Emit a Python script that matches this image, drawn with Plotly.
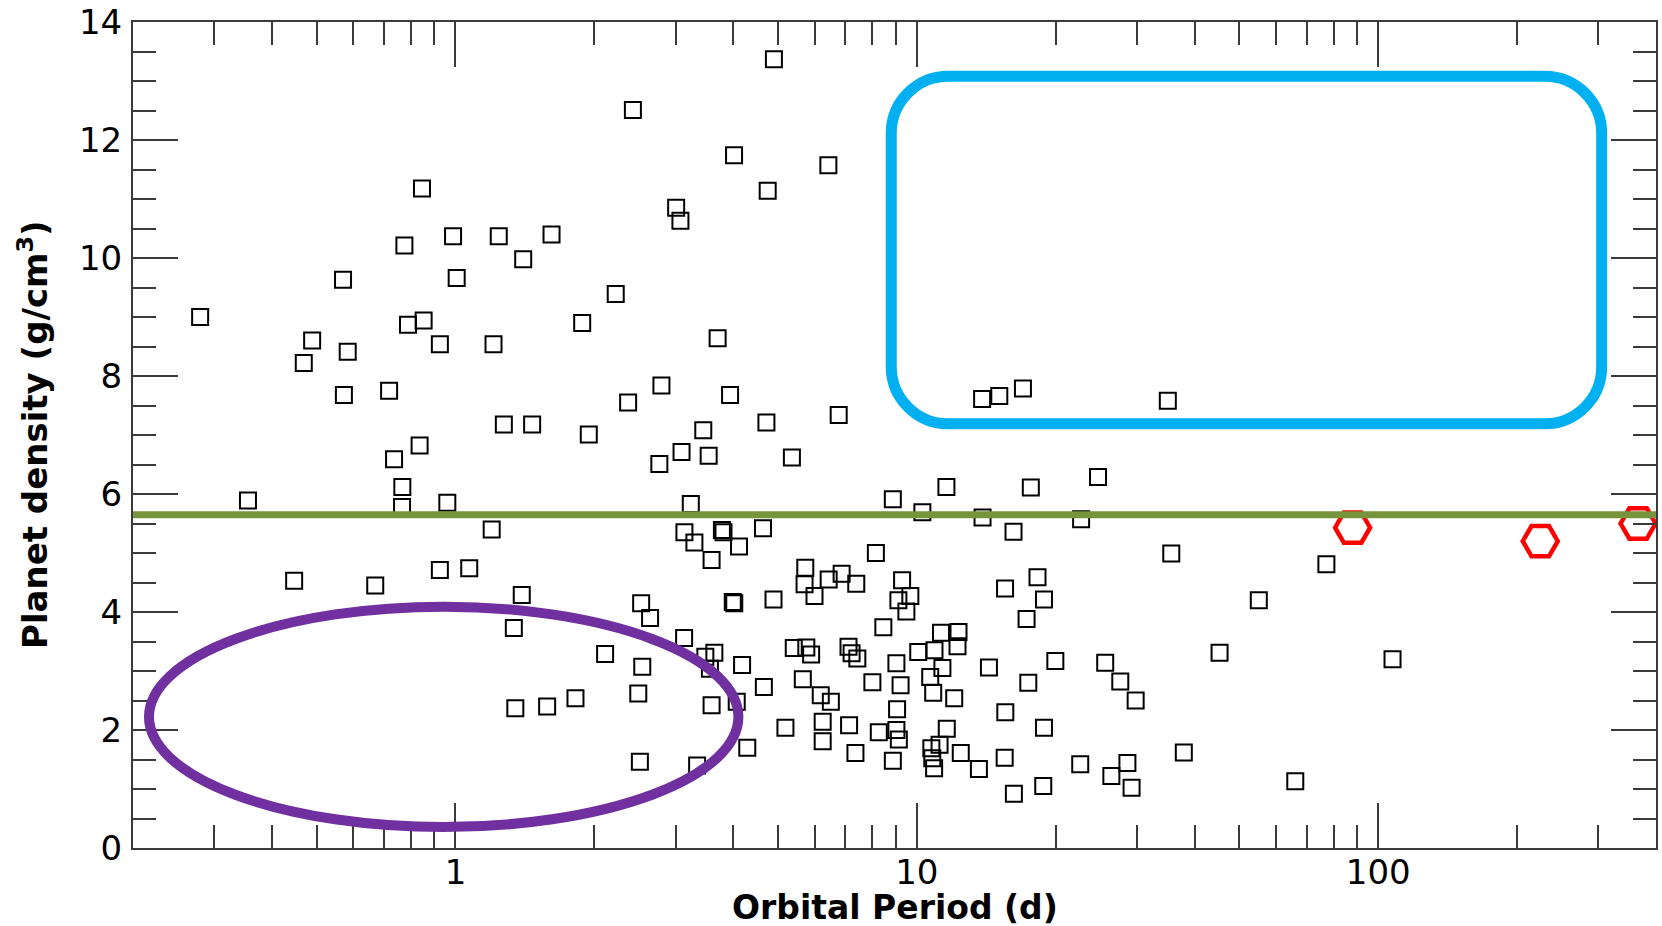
import math
import plotly.graph_objects as go

# ---------------- data ----------------
period = [0.846, 0.988, 1.241, 1.615, 0.775, 1.402, 0.5705, 1.006, 0.2796, 0.853,
          0.789, 0.489, 0.925, 1.209, 0.584, 0.469, 0.573, 0.718, 1.273, 1.466,
          0.836, 0.736, 0.767, 0.355, 0.766, 0.960, 1.198, 0.447, 0.670, 0.925,
          1.071, 1.392, 1.338, 1.348, 1.58, 4.90, 2.424, 4.016, 6.43, 4.75,
          3.008, 3.073, 2.225, 1.882, 3.70, 2.795, 2.367, 3.937, 6.77, 1.945,
          4.72, 3.444, 3.09, 3.538, 2.766, 5.36, 13.85, 15.09, 16.98, 34.99,
          11.59, 17.66, 8.87, 3.236, 10.28, 13.88, 3.135, 3.295, 3.78, 3.81,
          4.117, 4.64, 16.2, 8.15, 3.59, 5.73, 5.71, 6.44, 6.87, 7.39,
          6.00, 9.29, 9.68, 9.12, 9.49, 3.99, 4.02, 4.89, 2.526, 2.641,
          15.53, 18.26, 18.86, 17.29, 8.46, 11.28, 12.31, 12.25, 10.07, 10.92,
          11.36, 10.69, 10.85, 12.05, 14.33, 19.96, 17.44, 15.55, 18.86, 15.5,
          16.23, 18.79, 13.63, 12.45, 11.61, 11.2, 10.75, 10.8, 10.9, 8.87,
          7.36, 9.14, 9.03, 8.27, 9.06, 7.13, 6.25, 6.25, 5.19, 4.29,
          9.22, 9.03, 8.01, 6.19, 6.51, 5.66, 5.41, 5.76, 5.90, 7.11,
          7.22, 7.43, 4.66, 4.18, 3.64, 3.48, 3.56, 3.13, 2.54, 2.11,
          2.49, 3.59, 4.07, 1.82, 2.51, 3.34, 24.7, 22.7, 35.6, 77.2,
          55.1, 45.3, 107.4, 25.6, 27.6, 29.8, 37.9, 22.6, 28.6, 26.4,
          29.2, 66.1]
density = [11.18, 10.37, 10.37, 10.40, 10.21, 9.98, 9.63, 9.66, 9.00, 8.94,
           8.87, 8.60, 8.54, 8.54, 8.41, 8.22, 7.68, 7.75, 7.18, 7.18,
           6.82, 6.59, 6.12, 5.89, 5.78, 5.85, 5.40, 4.53, 4.45, 4.71,
           4.74, 4.29, 3.73, 2.37, 2.40, 13.37, 12.51, 11.74, 11.57, 11.14,
           10.85, 10.63, 9.39, 8.90, 8.64, 7.84, 7.55, 7.68, 7.34, 7.01,
           7.21, 7.08, 6.71, 6.65, 6.51, 6.62, 7.61, 7.66, 7.79, 7.58,
           6.12, 6.11, 5.91, 5.83, 5.69, 5.60, 5.35, 5.18, 5.39, 5.35,
           5.11, 5.42, 5.36, 5.00, 4.88, 4.75, 4.47, 4.55, 4.65, 4.48,
           4.27, 4.54, 4.27, 4.20, 4.01, 4.17, 4.15, 4.21, 4.15, 3.90,
           4.40, 4.59, 4.21, 3.88, 3.74, 3.65, 3.66, 3.42, 3.32, 3.35,
           3.05, 2.90, 2.63, 2.54, 3.06, 3.17, 2.80, 2.30, 2.04, 1.53,
           0.92, 1.05, 1.34, 1.61, 2.02, 1.75, 1.69, 1.52, 1.35, 1.48,
           1.61, 1.84, 2.00, 1.96, 2.35, 2.08, 2.14, 1.81, 2.04, 1.70,
           2.76, 3.13, 2.81, 2.59, 2.48, 2.86, 3.39, 3.40, 3.28, 3.41,
           3.30, 3.21, 2.73, 3.10, 3.31, 3.24, 3.04, 3.56, 3.07, 3.29,
           2.62, 2.42, 2.48, 2.54, 1.46, 1.40, 6.29, 5.57, 4.99, 4.81,
           4.20, 3.31, 3.20, 3.14, 2.82, 2.50, 1.62, 1.42, 1.44, 1.22,
           1.02, 1.13]

hex_period = [88.0, 224.5, 365.8]
hex_density = [5.43, 5.20, 5.50]

earth_density = [5.65]          # horizontal reference line

x_ticks = [1, 10, 100]
x_tick_text = ["1", "10", "100"]
x_minor = [0.3, 0.4, 0.5, 0.6, 0.7, 0.8, 0.9, 2, 3, 4, 5, 6, 7, 8, 9,
           20, 30, 40, 50, 60, 70, 80, 90, 200, 300]
x_range = [0.2, 400]
y_range = [0, 14]

x_title = "Orbital Period (d)"
y_title = "Planet density (g/cm<sup>3</sup>)"

# highlighted regions (data coordinates)
ellipse_period = [0.2166, 4.104]
ellipse_density = [0.356, 4.09]
box_period = [8.8, 305.0]
box_density = [7.19, 13.08]
box_corner = [0.1236, 0.967]   # corner radius: decades in period, units in density

# ---------------- figure ----------------
FONT = "DejaVu Sans"
AX = "#3a3a3a"

fig = go.Figure()
fig.add_trace(go.Scatter(
    x=period, y=density, mode="markers",
    marker=dict(symbol="square-open", size=16, color="black",
                line=dict(width=2, color="black")),
    showlegend=False, hoverinfo="skip"))
fig.add_trace(go.Scatter(
    x=hex_period, y=hex_density, mode="markers",
    marker=dict(symbol="hexagon2-open", size=35, color="#ff0000",
                line=dict(width=4.5, color="#ff0000")),
    showlegend=False, hoverinfo="skip"))

# rounded rectangle path (cubic bezier corners, built in log-x space)
k = 0.5523
lx0, lx1 = math.log10(box_period[0]), math.log10(box_period[1])
y0, y1 = box_density
rx, ry = box_corner


def pt(lx, y):
    return f"{10 ** lx:.6f},{y:.5f}"


path = (
    f"M{pt(lx0 + rx, y1)} L{pt(lx1 - rx, y1)} "
    f"C{pt(lx1 - rx + k * rx, y1)} {pt(lx1, y1 - ry + k * ry)} {pt(lx1, y1 - ry)} "
    f"L{pt(lx1, y0 + ry)} "
    f"C{pt(lx1, y0 + ry - k * ry)} {pt(lx1 - rx + k * rx, y0)} {pt(lx1 - rx, y0)} "
    f"L{pt(lx0 + rx, y0)} "
    f"C{pt(lx0 + rx - k * rx, y0)} {pt(lx0, y0 + ry - k * ry)} {pt(lx0, y0 + ry)} "
    f"L{pt(lx0, y1 - ry)} "
    f"C{pt(lx0, y1 - ry + k * ry)} {pt(lx0 + rx - k * rx, y1)} {pt(lx0 + rx, y1)} Z"
)

fig.add_shape(type="line", xref="paper", yref="y", x0=0, x1=1,
              y0=earth_density[0], y1=earth_density[0],
              line=dict(color="#77933c", width=7))
fig.add_shape(type="circle", xref="x", yref="y",
              x0=ellipse_period[0], x1=ellipse_period[1],
              y0=ellipse_density[0], y1=ellipse_density[1],
              line=dict(color="#7030a0", width=10))
fig.add_shape(type="path", xref="x", yref="y", path=path,
              line=dict(color="#00b0f0", width=11))

fig.update_layout(
    width=1662, height=926,
    margin=dict(l=133, r=6, t=22, b=78, autoexpand=False),
    paper_bgcolor="white", plot_bgcolor="white",
    font=dict(family=FONT, color="black", size=34),
    showlegend=False,
)

fig.update_xaxes(
    type="log", range=[math.log10(x_range[0]), math.log10(x_range[1])],
    tickvals=x_ticks, ticktext=x_tick_text,
    ticks="inside", ticklen=45, tickwidth=1.5, tickcolor=AX,
    minor=dict(tickvals=x_minor, ticks="inside", ticklen=23, tickwidth=1.5,
               tickcolor=AX, showgrid=False),
    showline=True, linewidth=2, linecolor=AX, mirror="allticks",
    showgrid=False, zeroline=False, ticklabelstandoff=-7, automargin=False,
    tickfont=dict(family=FONT, size=34, color="black"),
)
fig.update_yaxes(
    range=y_range, dtick=2, tick0=0,
    ticks="inside", ticklen=45, tickwidth=1.5, tickcolor=AX,
    minor=dict(dtick=0.5, ticks="inside", ticklen=23, tickwidth=1.5,
               tickcolor=AX, showgrid=False),
    showline=True, linewidth=2, linecolor=AX, mirror="allticks",
    showgrid=False, zeroline=False, ticklabelstandoff=2, automargin=False,
    tickfont=dict(family=FONT, size=34, color="black"),
)

fig.add_annotation(text=x_title, xref="paper", yref="paper", x=0.5, y=0,
                   xanchor="center", yanchor="middle", yshift=-59,
                   showarrow=False,
                   font=dict(family=FONT, size=33, color="black", weight="bold"))
fig.add_annotation(text=y_title, xref="paper", yref="paper", x=0, y=0.5,
                   xanchor="center", yanchor="middle", xshift=-100,
                   textangle=-90, showarrow=False,
                   font=dict(family=FONT, size=34, color="black", weight="bold"))

fig.write_html("out.html")
